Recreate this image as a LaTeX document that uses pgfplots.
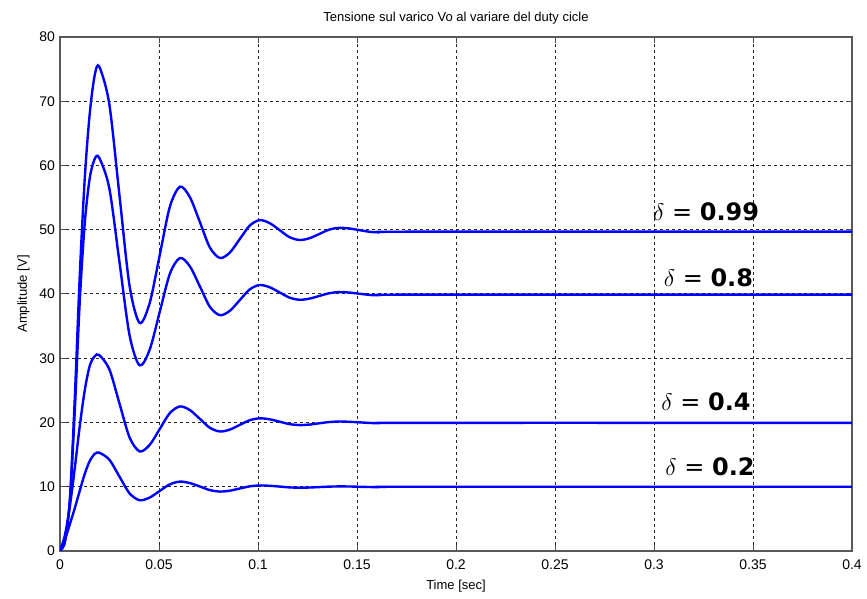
\documentclass[border=0pt]{standalone}
\usepackage{fontspec}
\setmainfont{Liberation Sans}
\newfontfamily\dvs{DejaVu Sans}
\usepackage{pgfplots}
\pgfplotsset{compat=1.18}
\definecolor{mblue}{RGB}{0,0,255}
\tikzset{dl/.style={font=\fontsize{12}{12}\selectfont\dvs}}
\pgfplotsset{resp/.style={mblue, no markers, line width=1.2pt, smooth, tension=0.5}}
\begin{document}
\begin{tikzpicture}
\begin{axis}[
  name=ax,
  scale only axis,
  width=396pt, height=257pt,
  xmin=0, xmax=0.4, ymin=0, ymax=80,
  xtick={0,0.05,0.1,0.15,0.2,0.25,0.3,0.35,0.4},
  xticklabels={0,0.05,0.1,0.15,0.2,0.25,0.3,0.35,0.4},
  ytick={0,10,...,80},
  /pgf/number format/assume math mode=true,
  tick label style={font=\fontsize{7}{8}\selectfont},
  xticklabel style={yshift=-1pt},
  yticklabel style={xshift=1pt},
  tick align=inside,
  major tick length=3pt,
  tick style={black!70, line width=0.5pt},
  axis line style={black!65, line width=0.8pt},
  grid=major,
  major grid style={black!85, line width=0.5pt, dash pattern=on 1.4pt off 1.6pt},
  xlabel={Time [sec]},
  ylabel={Amplitude [V]},
  label style={font=\fontsize{6.5}{7}\selectfont},
  xlabel style={yshift=2pt},
  ylabel style={yshift=-2pt},
  title={Tensione sul varico Vo al variare del duty cicle},
  title style={font=\fontsize{6.5}{7}\selectfont, yshift=-3pt},
]
\addplot[resp] coordinates {(0,0) (0.0025,1.5) (0.005,8) (0.0075,24) (0.01,43) (0.0125,58) (0.015,68) (0.0175,74) (0.0198,75.4)
(0.0249,69.56) (0.0300,55.45) (0.0351,41.34) (0.0402,35.5)
(0.0453,38.60) (0.0504,46.1) (0.0555,53.60) (0.0606,56.7)
(0.0656,55.07) (0.0707,51.15) (0.0757,47.23) (0.0808,45.6)
(0.0858,46.46) (0.0908,48.55) (0.0958,50.64) (0.1008,51.5)
(0.1058,51.05) (0.1109,49.95) (0.1159,48.85) (0.121,48.4)
(0.1260,48.68) (0.1310,49.35) (0.1360,50.02) (0.141,50.3)
(0.1460,50.2) (0.1510,49.95) (0.1560,49.7) (0.161,49.6)
(0.18,49.7) (0.4,49.7)};
\addplot[resp] coordinates {(0,0) (0.0025,1.5) (0.005,8) (0.0075,22) (0.01,39) (0.0125,51) (0.015,58) (0.0175,61) (0.0198,61.2)
(0.0249,56.47) (0.0300,45.05) (0.0351,33.63) (0.0402,28.9)
(0.0453,31.34) (0.0504,37.25) (0.0555,43.16) (0.0606,45.6)
(0.0656,44.30) (0.0707,41.15) (0.0757,38.0) (0.0808,36.7)
(0.0858,37.39) (0.0908,39.05) (0.0958,40.71) (0.1008,41.4)
(0.1058,41.06) (0.1109,40.25) (0.1159,39.44) (0.121,39.1)
(0.1260,39.28) (0.1310,39.7) (0.1360,40.12) (0.141,40.3)
(0.1460,40.23) (0.1510,40.05) (0.1560,39.87) (0.161,39.8)
(0.18,39.9) (0.4,39.9)};
\addplot[resp] coordinates {(0,0) (0.0025,2.5) (0.005,7) (0.0075,13) (0.01,19.5) (0.0125,25) (0.015,28.8) (0.0175,30.3) (0.0198,30.5)
(0.0249,28.30) (0.0300,23.0) (0.0351,17.70) (0.0402,15.5)
(0.0453,16.52) (0.0504,19.0) (0.0555,21.48) (0.0606,22.5)
(0.0656,21.93) (0.0707,20.55) (0.0757,19.17) (0.0808,18.6)
(0.0858,18.90) (0.0908,19.63) (0.0958,20.35) (0.1008,20.65)
(0.1058,20.50) (0.1109,20.13) (0.1159,19.75) (0.121,19.6)
(0.1260,19.68) (0.1310,19.88) (0.1360,20.07) (0.141,20.15)
(0.1460,20.11) (0.1510,20.03) (0.1560,19.94) (0.161,19.9)
(0.18,19.95) (0.4,19.95)};
\addplot[resp] coordinates {(0,0) (0.0025,1.8) (0.005,4.2) (0.0075,6.7) (0.01,9.4) (0.0125,12.0) (0.015,14.0) (0.0175,15.1) (0.0198,15.3)
(0.0249,14.22) (0.0300,11.6) (0.0351,8.98) (0.0402,7.9)
(0.0453,8.32) (0.0504,9.35) (0.0555,10.38) (0.0606,10.8)
(0.0656,10.57) (0.0707,10.03) (0.0757,9.48) (0.0808,9.25)
(0.0858,9.39) (0.0908,9.73) (0.0958,10.06) (0.1008,10.2)
(0.1058,10.15) (0.1109,10.03) (0.1159,9.9) (0.121,9.85)
(0.1260,9.88) (0.1310,9.95) (0.1360,10.02) (0.141,10.05)
(0.1460,10.04) (0.1510,10.0) (0.1560,9.96) (0.161,9.95)
(0.18,10) (0.4,10)};
\node[dl] at (axis cs:0.3263,52.8) {$\delta$ = \textbf{0.99}};
\node[dl] at (axis cs:0.3275,42.5) {$\delta$ = \textbf{0.8}};
\node[dl] at (axis cs:0.3263,23.2) {$\delta$ = \textbf{0.4}};
\node[dl] at (axis cs:0.3283,13.1) {$\delta$ = \textbf{0.2}};
\end{axis}
\pgfresetboundingbox
\path ([xshift=-30pt,yshift=-24pt]ax.south west) rectangle ([xshift=7.5pt,yshift=18.5pt]ax.north east);
\end{tikzpicture}
\end{document}
